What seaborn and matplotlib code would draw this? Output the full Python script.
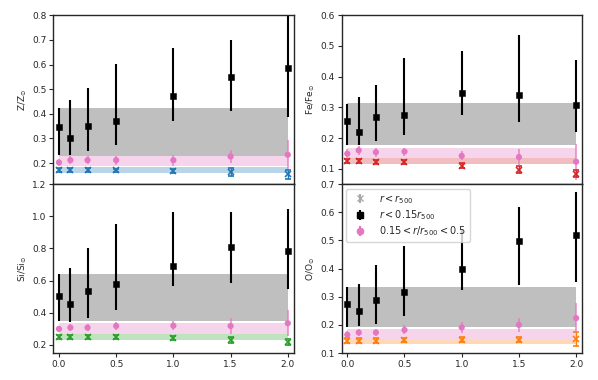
import numpy as np
import seaborn as sns
import matplotlib.pyplot as plt

sns.set_style("ticks")
plt.rcParams['font.family'] = ['DejaVu Sans']
plt.rcParams['mathtext.fontset'] = 'dejavusans'

# redshift-like x positions
x = [0.0, 0.1, 0.25, 0.5, 1.0, 1.5, 2.0]

# Z/Zsun
z_core = [0.345, 0.302, 0.352, 0.370, 0.473, 0.551, 0.584]
z_core_lo = [0.233, 0.235, 0.248, 0.275, 0.370, 0.413, 0.389]
z_core_hi = [0.425, 0.457, 0.505, 0.601, 0.668, 0.700, 0.795]
z_mid = [0.203, 0.212, 0.212, 0.212, 0.212, 0.227, 0.234]
z_mid_err = [0.013, 0.015, 0.015, 0.018, 0.022, 0.025, 0.06]
z_all = [0.173, 0.172, 0.172, 0.171, 0.168, 0.164, 0.155]
z_all_err = [0.008, 0.008, 0.008, 0.007, 0.008, 0.016, 0.018]
z_bands = [(0.230, 0.425), (0.187, 0.229), (0.160, 0.186)]

# Fe/Fesun
fe_core = [0.256, 0.219, 0.268, 0.276, 0.347, 0.340, 0.309]
fe_core_lo = [0.178, 0.176, 0.191, 0.211, 0.274, 0.253, 0.219]
fe_core_hi = [0.311, 0.334, 0.374, 0.462, 0.483, 0.534, 0.455]
fe_mid = [0.149, 0.160, 0.154, 0.156, 0.142, 0.138, 0.123]
fe_mid_err = [0.014, 0.014, 0.015, 0.013, 0.015, 0.025, 0.058]
fe_all = [0.125, 0.125, 0.123, 0.121, 0.110, 0.097, 0.084]
fe_all_err = [0.007, 0.007, 0.007, 0.007, 0.008, 0.012, 0.011]
fe_bands = [(0.177, 0.314), (0.136, 0.168), (0.116, 0.135)]

# Si/Sisun
si_core = [0.506, 0.455, 0.537, 0.581, 0.691, 0.807, 0.786]
si_core_lo = [0.351, 0.345, 0.370, 0.417, 0.566, 0.583, 0.546]
si_core_hi = [0.639, 0.676, 0.800, 0.950, 1.028, 1.024, 1.043]
si_mid = [0.300, 0.308, 0.308, 0.318, 0.320, 0.318, 0.335]
si_mid_err = [0.02, 0.022, 0.022, 0.022, 0.028, 0.048, 0.082]
si_all = [0.252, 0.252, 0.250, 0.251, 0.241, 0.231, 0.217]
si_all_err = [0.012, 0.012, 0.011, 0.011, 0.012, 0.018, 0.02]
si_bands = [(0.349, 0.639), (0.268, 0.335), (0.231, 0.267)]

# O/Osun
o_core = [0.273, 0.250, 0.287, 0.317, 0.400, 0.499, 0.519]
o_core_lo = [0.191, 0.197, 0.204, 0.230, 0.325, 0.340, 0.354]
o_core_hi = [0.333, 0.345, 0.413, 0.480, 0.540, 0.617, 0.673]
o_mid = [0.165, 0.173, 0.173, 0.182, 0.191, 0.200, 0.224]
o_mid_err = [0.012, 0.014, 0.014, 0.016, 0.02, 0.025, 0.053]
o_all = [0.144, 0.144, 0.144, 0.146, 0.148, 0.148, 0.150]
o_all_err = [0.008, 0.008, 0.008, 0.007, 0.008, 0.01, 0.025]
o_bands = [(0.191, 0.334), (0.151, 0.186), (0.131, 0.151)]

panels = [
    ("Z/Z$_{\\odot}$", z_core, z_core_lo, z_core_hi, z_mid, z_mid_err, z_all, z_all_err, z_bands, "tab:blue", (0.115, 0.8)),
    ("Fe/Fe$_{\\odot}$", fe_core, fe_core_lo, fe_core_hi, fe_mid, fe_mid_err, fe_all, fe_all_err, fe_bands, "tab:red", (0.05, 0.6)),
    ("Si/Si$_{\\odot}$", si_core, si_core_lo, si_core_hi, si_mid, si_mid_err, si_all, si_all_err, si_bands, "tab:green", (0.15, 1.2)),
    ("O/O$_{\\odot}$", o_core, o_core_lo, o_core_hi, o_mid, o_mid_err, o_all, o_all_err, o_bands, "tab:orange", (0.1, 0.7)),
]

fig, axes = plt.subplots(2, 2, figsize=(5.98, 3.8), dpi=100, sharex=True)
fig.subplots_adjust(left=0.089, right=0.973, bottom=0.071, top=0.96, hspace=0, wspace=0.2)

for ax, (lab, core, lo, hi, mid, mide, al, ale, bands, col, ylim) in zip(axes.flat, panels):
    # shaded ranges
    ax.fill_between([0, 2], bands[0][0], bands[0][1], color="gray", alpha=0.5, lw=0)
    ax.fill_between([0, 2], bands[1][0], bands[1][1], color="tab:pink", alpha=0.3, lw=0)
    ax.fill_between([0, 2], bands[2][0], bands[2][1], color=col, alpha=0.3, lw=0)

    core = np.array(core)
    yerr = [core - np.array(lo), np.array(hi) - core]
    ax.errorbar(x, core, yerr=yerr, fmt="none", ecolor="black", elinewidth=1.5)
    sns.scatterplot(x=x, y=core, marker="s", color="black", s=22, edgecolor="black", ax=ax, zorder=3)

    ax.errorbar(x, mid, yerr=mide, fmt="none", ecolor="tab:pink", elinewidth=1.2, alpha=0.8)
    sns.scatterplot(x=x, y=mid, marker="o", color="tab:pink", s=20, edgecolor="none", ax=ax, zorder=3)

    ax.errorbar(x, al, yerr=ale, fmt="x", color=col, ms=4, mew=1.2, elinewidth=1.0, capsize=2)

    ax.set_ylim(*ylim)
    ax.set_xlim(-0.05, 2.05)
    ax.set_ylabel(lab, fontsize=6.5, labelpad=2)
    ax.tick_params(labelsize=6.5, length=3, width=0.8, pad=2)
    for sp in ax.spines.values():
        sp.set_linewidth(1.0)

axes[0, 0].set_yticks([0.2, 0.3, 0.4, 0.5, 0.6, 0.7, 0.8])
axes[1, 0].set_yticks([0.2, 0.4, 0.6, 0.8, 1.0, 1.2])
axes[0, 1].set_yticks([0.1, 0.2, 0.3, 0.4, 0.5, 0.6])
axes[1, 1].set_yticks([0.1, 0.2, 0.3, 0.4, 0.5, 0.6, 0.7])
for ax in axes[1]:
    ax.set_xticks([0.0, 0.5, 1.0, 1.5, 2.0])

# legend handles
ax = axes[1, 1]
h1 = ax.errorbar([], [], yerr=[], fmt="x", color="darkgray", ms=4, capsize=1.5, label="$r < r_{500}$")
h2 = ax.errorbar([], [], yerr=[], fmt="s", color="black", ms=4.5, label="$r < 0.15r_{500}$")
h3 = ax.errorbar([], [], yerr=[], fmt="o", color="tab:pink", ms=4.5, label="$0.15 < r/r_{500} < 0.5$")
ax.legend(handles=[h1, h2, h3], loc="upper left", fontsize=7, frameon=True,
          borderaxespad=0.5, labelspacing=0.25, handletextpad=1.0, borderpad=0.4)

plt.savefig("out.png", dpi=100)
